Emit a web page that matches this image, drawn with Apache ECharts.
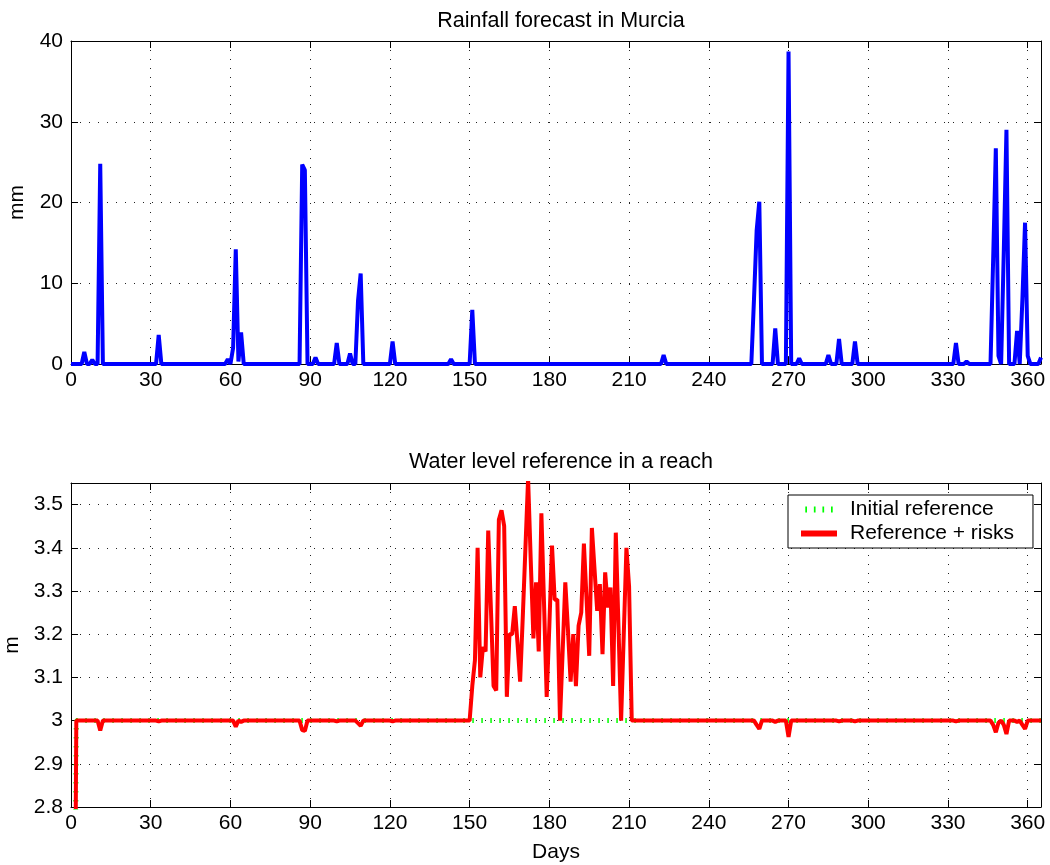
<!DOCTYPE html>
<html>
<head>
<meta charset="utf-8">
<script src="https://cdn.jsdelivr.net/npm/echarts@6/dist/echarts.min.js"></script>
<style>
html,body{margin:0;padding:0;background:#fff;}
#chart{width:1050px;height:865px;}
</style>
</head>
<body>
<div id="chart"></div>
<script>
// ---- Data ----
// Rainfall forecast (mm): days with rain; all other days are 0
const rainDays   = [5, 8, 11, 33, 59, 61, 62, 63, 64, 87, 88, 92, 100, 105, 108, 109, 121, 143, 151, 223,
                    257, 258, 259, 265, 270, 274, 285, 289, 295, 333, 337, 347, 348, 349, 351, 352, 356, 358, 359, 360, 365];
const rainValues = [1.5, 0.5, 24.8, 3.6, 0.6, 2, 14.2, 0.3, 3.9, 24.7, 24.0, 0.8, 2.6, 1.3, 7.8, 11.2, 2.8, 0.6, 6.7, 1.1,
                    8.0, 16.5, 20.1, 4.4, 38.7, 0.7, 1.1, 3.1, 2.8, 2.6, 0.3, 13, 26.7, 1, 14, 29.0, 4.1, 8, 17.5, 1, 0.8];
const rainFirstDay = 0, lastDay = 365;

// Water level (m): baseline 3.0, with these deviating days
const levelBase = 3.0;
const levelDays = [1, 11, 33, 62, 64, 87, 88, 100, 108, 109, 121,
  151,152,153,154,155,156,157,158,159,160,161,162,163,164,165,166,167,168,169,170,
  171,172,173,174,175,176,177,178,179,180,181,182,183,184,185,186,187,188,189,190,
  191,192,193,194,195,196,197,198,199,200,201,202,203,204,205,206,207,208,209,210,
  258, 259, 265, 270, 289, 295, 333, 347, 348, 349, 351, 352, 356, 358, 359];
const levelValues = [2.0, 2.977, 2.998, 2.986, 2.997, 2.978, 2.976, 2.998, 2.994, 2.988, 2.998,
  3.08,3.14,3.40,3.10,3.17,3.16,3.44,3.26,3.08,3.07,3.465,3.487,3.45,3.055,3.20,3.20,3.265,3.18,3.09,3.24,
  3.40,3.56,3.37,3.19,3.32,3.16,3.48,3.27,3.055,3.22,3.405,3.28,3.28,3.0,3.16,3.32,3.21,3.09,3.20,3.08,
  3.22,3.25,3.41,3.28,3.15,3.446,3.35,3.254,3.316,3.154,3.343,3.262,3.308,3.08,3.435,3.22,3.0,3.20,3.40,3.31,
  2.99, 2.981, 2.997, 2.962, 2.998, 2.998, 2.998, 2.99, 2.973, 2.995, 2.99, 2.969, 2.997, 2.99, 2.981];
const initialDays = [1];
const initialValues = [2.0];
const levelFirstDay = 1;

const xTicks = {min: 0, max: 365, interval: 30};
const titles = ['Rainfall forecast in Murcia', 'Water level reference in a reach'];
const seriesNames = ['Initial reference', 'Reference + risks'];

// ---- Build series arrays ----
function buildSeries(first, last, base, days, vals) {
  const m = new Map(days.map((d, i) => [d, vals[i]]));
  const out = [];
  for (let d = first; d <= last; d++) out.push([d, m.has(d) ? m.get(d) : base]);
  return out;
}
const rainData = buildSeries(rainFirstDay, lastDay, 0, rainDays, rainValues);
const levelData = buildSeries(levelFirstDay, lastDay, levelBase, levelDays, levelValues);
const initialData = buildSeries(levelFirstDay, lastDay, levelBase, initialDays, initialValues);

// ---- Chart ----
const FONT = '"Liberation Sans", Arial, Helvetica, sans-serif';
const FS = 21;
const chart = echarts.init(document.getElementById('chart'), null, {renderer: 'canvas'});

const axisLine = {show: true, onZero: false, lineStyle: {color: '#000', width: 1}};
const tick = {show: true, inside: true, length: 7, lineStyle: {color: '#000', width: 1}};
const split = {show: true, lineStyle: {color: '#222', width: 1, type: [1, 8]}};
const lbl = {color: '#000', fontSize: FS, fontFamily: FONT};

function xMain(grid, name) {
  return {type: 'value', gridIndex: grid, position: 'bottom', min: xTicks.min, max: xTicks.max, interval: xTicks.interval,
    axisLine, axisTick: tick, splitLine: split,
    axisLabel: Object.assign({margin: 6, showMaxLabel: false}, lbl),
    name: name || '', nameLocation: 'middle', nameGap: 35,
    nameTextStyle: {color: '#000', fontSize: FS, fontFamily: FONT}};
}
function xMirror(grid) {
  return {type: 'value', gridIndex: grid, position: 'top', min: xTicks.min, max: xTicks.max, interval: xTicks.interval,
    axisLine, axisTick: tick, splitLine: {show: false}, axisLabel: {show: false}};
}
function yMain(grid, min, max, interval, name, showMax) {
  return {type: 'value', gridIndex: grid, position: 'left', min, max, interval,
    axisLine, axisTick: tick, splitLine: split,
    axisLabel: Object.assign({margin: 8, showMaxLabel: showMax, formatter: v => String(Math.round(v * 10) / 10)}, lbl),
    name, nameLocation: 'middle', nameGap: 43, nameRotate: 90,
    nameTextStyle: {color: '#000', fontSize: FS, fontFamily: FONT}};
}
function yMirror(grid, min, max, interval) {
  return {type: 'value', gridIndex: grid, position: 'right', min, max, interval,
    axisLine, axisTick: tick, splitLine: {show: false}, axisLabel: {show: false}};
}

chart.setOption({
  animation: false,
  backgroundColor: '#fff',
  textStyle: {fontFamily: FONT},
  title: [
    {text: titles[0], left: 556, top: 5, textAlign: 'center',
     textStyle: {fontSize: 21.5, fontWeight: 'normal', color: '#000', fontFamily: FONT}},
    {text: titles[1], left: 556, top: 446, textAlign: 'center',
     textStyle: {fontSize: 21.5, fontWeight: 'normal', color: '#000', fontFamily: FONT}}
  ],
  grid: [
    {left: 71, top: 41, width: 970, height: 323, containLabel: false, outerBoundsMode: 'none'},
    {left: 71, top: 483, width: 970, height: 324, containLabel: false, outerBoundsMode: 'none'}
  ],
  xAxis: [xMain(0), xMirror(0), xMain(1, 'Days'), xMirror(1)],
  yAxis: [
    yMain(0, 0, 40, 10, 'mm', true), yMirror(0, 0, 40, 10),
    yMain(1, 2.8, 3.55, 0.1, 'm', false), yMirror(1, 2.8, 3.55, 0.1)
  ],
  legend: {
    data: [
      {name: seriesNames[0], icon: 'path://M0,0h2v7h-2zM10,0h2v7h-2zM20,0h2v7h-2zM30,0h2v7h-2z'},
      {name: seriesNames[1], icon: 'rect'}
    ],
    orient: 'vertical', left: 788, top: 495,
    backgroundColor: '#fff', borderColor: '#000', borderWidth: 1,
    padding: [4, 19, 4, 13], itemWidth: 36, itemHeight: 6, itemGap: 3,
    textStyle: {color: '#000', fontSize: FS, fontFamily: FONT, padding: [0, 0, 0, 8]}
  },
  series: [
    {type: 'line', name: 'rain', xAxisIndex: 0, yAxisIndex: 0, data: rainData, symbol: 'none',
     lineStyle: {color: '#0000ff', width: 4}, itemStyle: {color: '#0000ff'}},
    {type: 'line', name: seriesNames[0], xAxisIndex: 2, yAxisIndex: 2, data: initialData, symbol: 'none',
     lineStyle: {color: '#00ff00', width: 5, type: [1.5, 7.5]}, itemStyle: {color: '#00ff00'}},
    {type: 'line', name: seriesNames[1], xAxisIndex: 2, yAxisIndex: 2, data: levelData, symbol: 'none',
     lineStyle: {color: '#ff0000', width: 4}, itemStyle: {color: '#ff0000'}}
  ]
});
</script>
</body>
</html>
